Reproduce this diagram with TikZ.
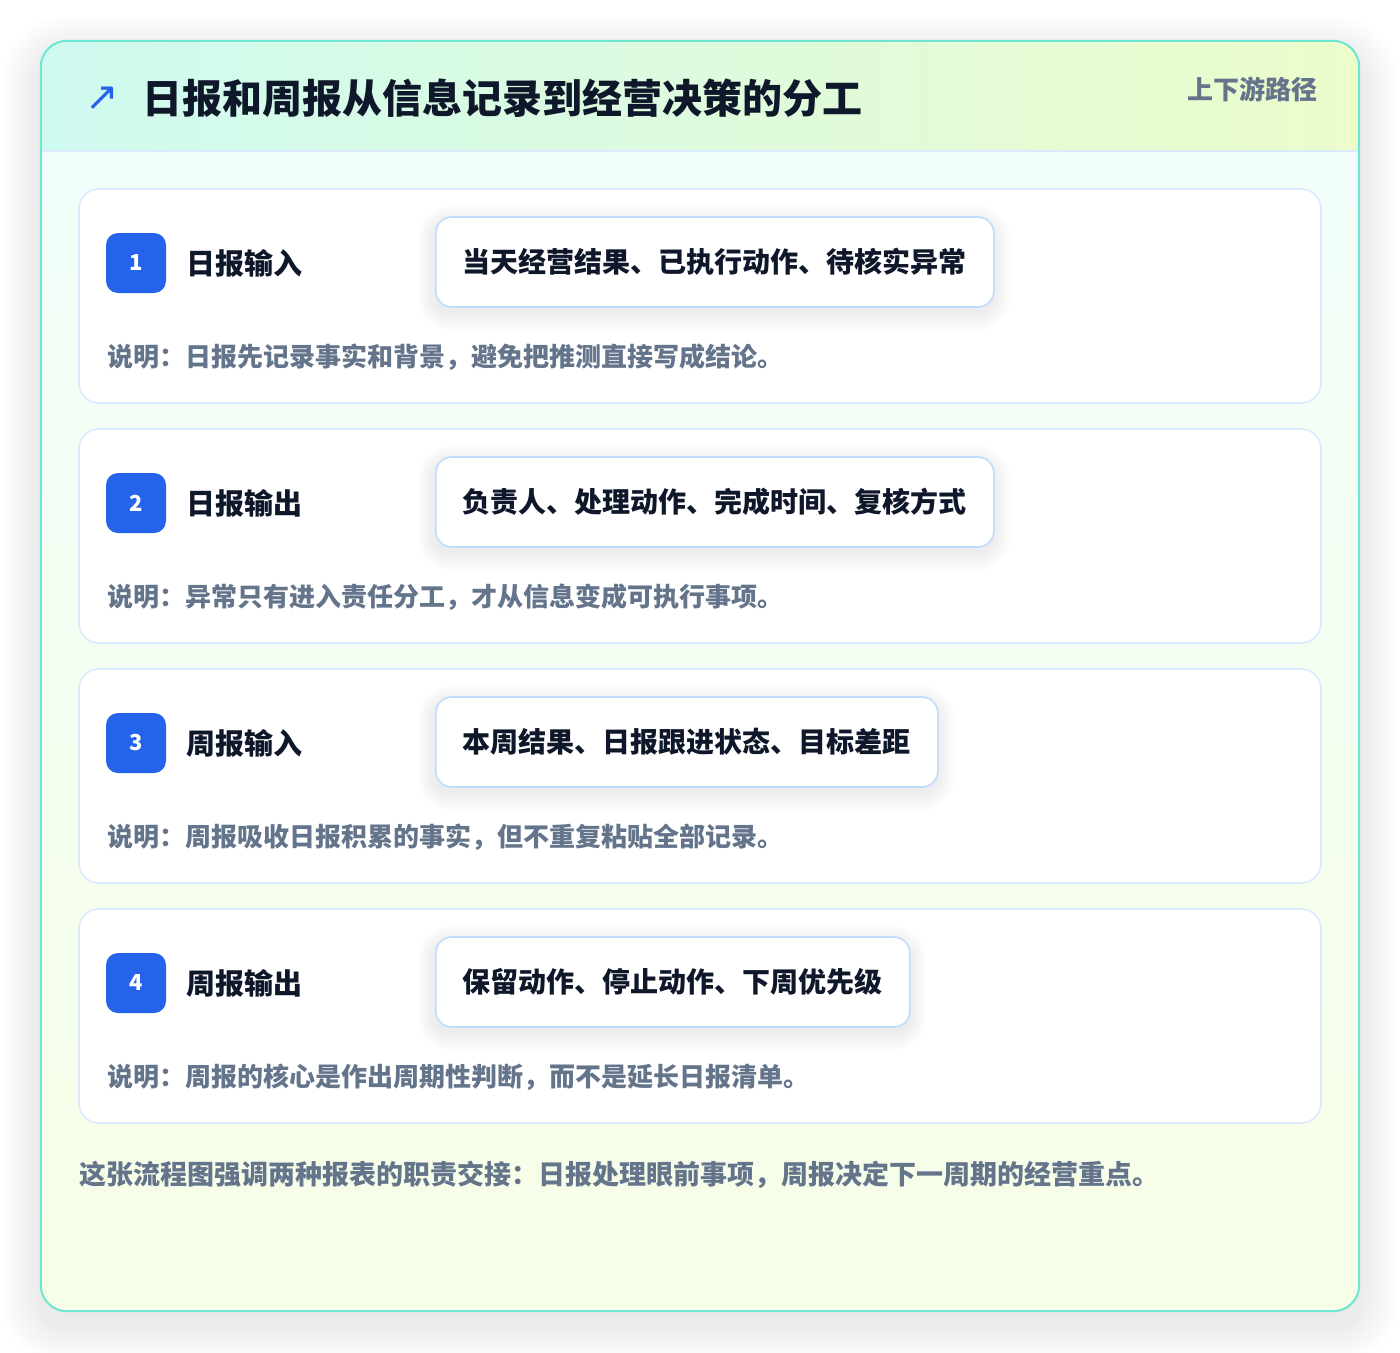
\documentclass[tikz,border=0pt]{standalone}
\usepackage{fontspec}
\setmainfont{Noto Sans CJK SC}
\newfontfamily\symfont{DejaVu Sans}
\usetikzlibrary{positioning, calc}

\definecolor{inkdark}{HTML}{0F172A}
\definecolor{inkgray}{HTML}{64748B}
\definecolor{brandblue}{HTML}{2563EB}
\definecolor{framedge}{HTML}{6EE7D2}
\definecolor{headleft}{HTML}{CFFAF0}
\definecolor{headright}{HTML}{ECFCCB}
\definecolor{bodytop}{HTML}{F0FDFA}
\definecolor{bodybottom}{HTML}{F7FEE7}
\definecolor{cardedge}{HTML}{DBEAFE}
\definecolor{cardfill}{HTML}{FEFFFE}
\definecolor{pilledge}{HTML}{BFDBFE}
\definecolor{shadowgray}{HTML}{1E293B}

\begin{document}
\begin{tikzpicture}[
  x=1pt, y=-1pt,
  frame/.style = {
    rounded corners=26pt,
    minimum width=1318pt,
    minimum height=1270pt,
    top color=bodytop,
    bottom color=bodybottom
  },
  card/.style = {
    draw=cardedge,
    line width=1.6pt,
    rounded corners=20pt,
    fill=cardfill,
    minimum width=1242pt,
    minimum height=214pt
  },
  badge/.style = {
    fill=brandblue,
    rounded corners=12pt,
    minimum size=60pt,
    inner sep=0pt,
    text=white,
    font=\fontsize{22}{26}\selectfont\bfseries
  },
  steplabel/.style = {
    inner sep=0pt,
    text=inkdark,
    font=\fontsize{29}{34}\selectfont\bfseries
  },
  pill/.style = {
    draw=pilledge,
    line width=1.6pt,
    rounded corners=16pt,
    fill=white,
    minimum height=90pt,
    inner xsep=27pt,
    text=inkdark,
    font=\fontsize{28}{32}\selectfont\bfseries
  },
  note/.style = {
    inner sep=0pt,
    text=inkgray,
    font=\fontsize{26}{30}\selectfont\bfseries
  },
  titletext/.style = {
    inner sep=0pt,
    text=inkdark,
    font=\fontsize{40}{46}\selectfont\bfseries
  },
  softshadow/.style = {
    fill=shadowgray,
    fill opacity=0.0045
  }
]

\useasboundingbox (0,0) rectangle (1400,1352);
\fill[white] (0,0) rectangle (1400,1352);

% ======================================================
% FRAME AND HEADER
% ======================================================

% soft shadow under the frame
\foreach \s in {2,4,...,40}
  \fill[softshadow, rounded corners=26pt+\s*1pt]
    (41-\s,41-\s+14) rectangle (1359+\s,1311+\s+14);

\node[frame] (frame) at (700,676) {};

\coordinate (head_sw) at (41,151);
\coordinate (head_se) at (1359,151);

\begin{scope}
  \clip[rounded corners=26pt] (frame.north west) rectangle (frame.south east);
  \shade[left color=headleft, right color=headright]
    (frame.north west) rectangle (head_se);
\end{scope}
\draw[cardedge, line width=2pt] (head_sw) -- (head_se);
\draw[framedge, line width=2pt, rounded corners=26pt]
  (frame.north west) rectangle (frame.south east);

\node[text=brandblue, inner sep=0pt,
  font=\symfont\fontsize{40}{44}\selectfont]
  (icon) at (102,99) {↗};
\node[titletext, anchor=west] (title) at (142,98)
  {日报和周报从信息记录到经营决策的分工};
\node[inner sep=0pt, anchor=east, text=inkgray,
  font=\fontsize{26}{30}\selectfont\bfseries] (tag) at (1318,89) {上下游路径};

% ======================================================
% STEP CARDS
% ======================================================

% step 1
\node[card] (card1) at (700,296) {};
\node[badge] (badge1) at (136,263) {1};
\node[steplabel, right=20pt of badge1] (label1) {日报输入};
\foreach \s in {2,4,...,18}
  \fill[softshadow, fill opacity=0.006, rounded corners=16pt+\s*1pt]
    (435-\s,217-\s+6) rectangle (993+\s,307+\s+6);
\node[pill, anchor=west] (pill1) at (435,262)
  {当天经营结果、已执行动作、待核实异常};
\node[note, anchor=west] (note1) at (107,357)
  {说明：日报先记录事实和背景，避免把推测直接写成结论。};

% step 2
\node[card] (card2) at (700,536) {};
\node[badge] (badge2) at (136,503) {2};
\node[steplabel, right=20pt of badge2] (label2) {日报输出};
\foreach \s in {2,4,...,18}
  \fill[softshadow, fill opacity=0.006, rounded corners=16pt+\s*1pt]
    (435-\s,457-\s+6) rectangle (993+\s,547+\s+6);
\node[pill, anchor=west] (pill2) at (435,502)
  {负责人、处理动作、完成时间、复核方式};
\node[note, anchor=west] (note2) at (107,597)
  {说明：异常只有进入责任分工，才从信息变成可执行事项。};

% step 3
\node[card] (card3) at (700,776) {};
\node[badge] (badge3) at (136,743) {3};
\node[steplabel, right=20pt of badge3] (label3) {周报输入};
\foreach \s in {2,4,...,18}
  \fill[softshadow, fill opacity=0.006, rounded corners=16pt+\s*1pt]
    (435-\s,697-\s+6) rectangle (937+\s,787+\s+6);
\node[pill, anchor=west] (pill3) at (435,742)
  {本周结果、日报跟进状态、目标差距};
\node[note, anchor=west] (note3) at (107,837)
  {说明：周报吸收日报积累的事实，但不重复粘贴全部记录。};

% step 4
\node[card] (card4) at (700,1016) {};
\node[badge] (badge4) at (136,983) {4};
\node[steplabel, right=20pt of badge4] (label4) {周报输出};
\foreach \s in {2,4,...,18}
  \fill[softshadow, fill opacity=0.006, rounded corners=16pt+\s*1pt]
    (435-\s,937-\s+6) rectangle (909+\s,1027+\s+6);
\node[pill, anchor=west] (pill4) at (435,982)
  {保留动作、停止动作、下周优先级};
\node[note, anchor=west] (note4) at (107,1077)
  {说明：周报的核心是作出周期性判断，而不是延长日报清单。};

% ======================================================
% SUMMARY
% ======================================================

\node[note, anchor=west, font=\fontsize{27}{32}\selectfont\bfseries]
  (summary) at (79,1175)
  {这张流程图强调两种报表的职责交接：日报处理眼前事项，周报决定下一周期的经营重点。};

\end{tikzpicture}
\end{document}
